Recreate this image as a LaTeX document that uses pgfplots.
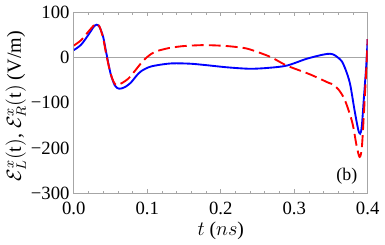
\documentclass[border=0pt]{standalone}
\usepackage{fontspec}
\setmainfont{Liberation Serif}
\usepackage{pgfplots}
\pgfplotsset{compat=1.18}
\begin{document}
\begin{tikzpicture}
\begin{axis}[
  scale only axis,
  width=173pt, height=107pt,
  xmin=0, xmax=0.4, ymin=-300, ymax=100,
  axis line style={gray!70, line width=0.4pt},
  xtick={0,0.1,0.2,0.3,0.4},
  xticklabels={0.0,0.1,0.2,0.3,0.4},
  minor x tick num=4,
  ytick={-300,-200,-100,0,100},
  yticklabels={−300,−200,−100,0,100},
  tick align=inside,
  tick style={gray!70, line width=0.4pt},
  major tick length=2.5pt, minor tick length=1.5pt,
  ytick style={draw=none},
  tick label style={font=\fontsize{11}{12}\selectfont},
  yticklabel style={xshift=1pt},
  xticklabel style={yshift=-1.5pt},
  /pgf/number format/assume math mode=true,
  xlabel={\fontsize{11.5}{12}\selectfont $t$ ($ns$)},
  ylabel={\fontsize{11.8}{13}\selectfont $\mathcal{E}^x_L(\mathrm{t})$, $\mathcal{E}^x_R(\mathrm{t})$ (V/m)},
  xlabel style={yshift=3pt},
  ylabel style={yshift=-4pt, xshift=-2pt},
  clip=true,
]
\addplot[gray!70, line width=0.4pt, forget plot] coordinates {(0,0) (0.4,0)};
\addplot[blue, line width=1.1pt, smooth, tension=0.5] coordinates {
(0,16)(0.01,28)(0.02,50)(0.027,67)(0.031,72)(0.035,67)(0.04,45)(0.044,12)(0.05,-35)(0.056,-62)(0.062,-69)(0.07,-65)(0.078,-55)(0.085,-41)(0.092,-30)(0.105,-20)(0.127,-14)(0.14,-13)(0.16,-14)(0.18,-17)(0.21,-22)(0.24,-25)(0.265,-23)(0.29,-18)(0.317,-3)(0.339,6)(0.349,8)(0.355,5)(0.36,-1)(0.365,-9)(0.37,-27)(0.376,-58)(0.382,-115)(0.387,-158)(0.3897,-168)(0.392,-152)(0.395,-86)(0.398,-20)(0.4,40)
};
\addplot[red, line width=1.1pt, dash pattern=on 7pt off 3pt, smooth, tension=0.5] coordinates {
(0,26)(0.01,38)(0.02,57)(0.027,70)(0.031,74)(0.035,68)(0.04,42)(0.044,8)(0.05,-35)(0.055,-56)(0.059,-61)(0.066,-56)(0.074,-47)(0.083,-30)(0.092,-12)(0.1,1)(0.11,12)(0.125,19)(0.135,22)(0.15,25)(0.175,27)(0.198,26)(0.215,24)(0.234,20)(0.25,12)(0.269,0)(0.29,-18)(0.321,-37)(0.347,-56)(0.352,-59)(0.36,-70)(0.369,-94)(0.379,-143)(0.385,-195)(0.389,-219)(0.392,-200)(0.395,-120)(0.398,-30)(0.4,40)
};
\node[anchor=south east, font=\fontsize{10.5}{12}\selectfont] at (rel axis cs:0.985,0.02) {(b)};
\end{axis}
\end{tikzpicture}
\end{document}
